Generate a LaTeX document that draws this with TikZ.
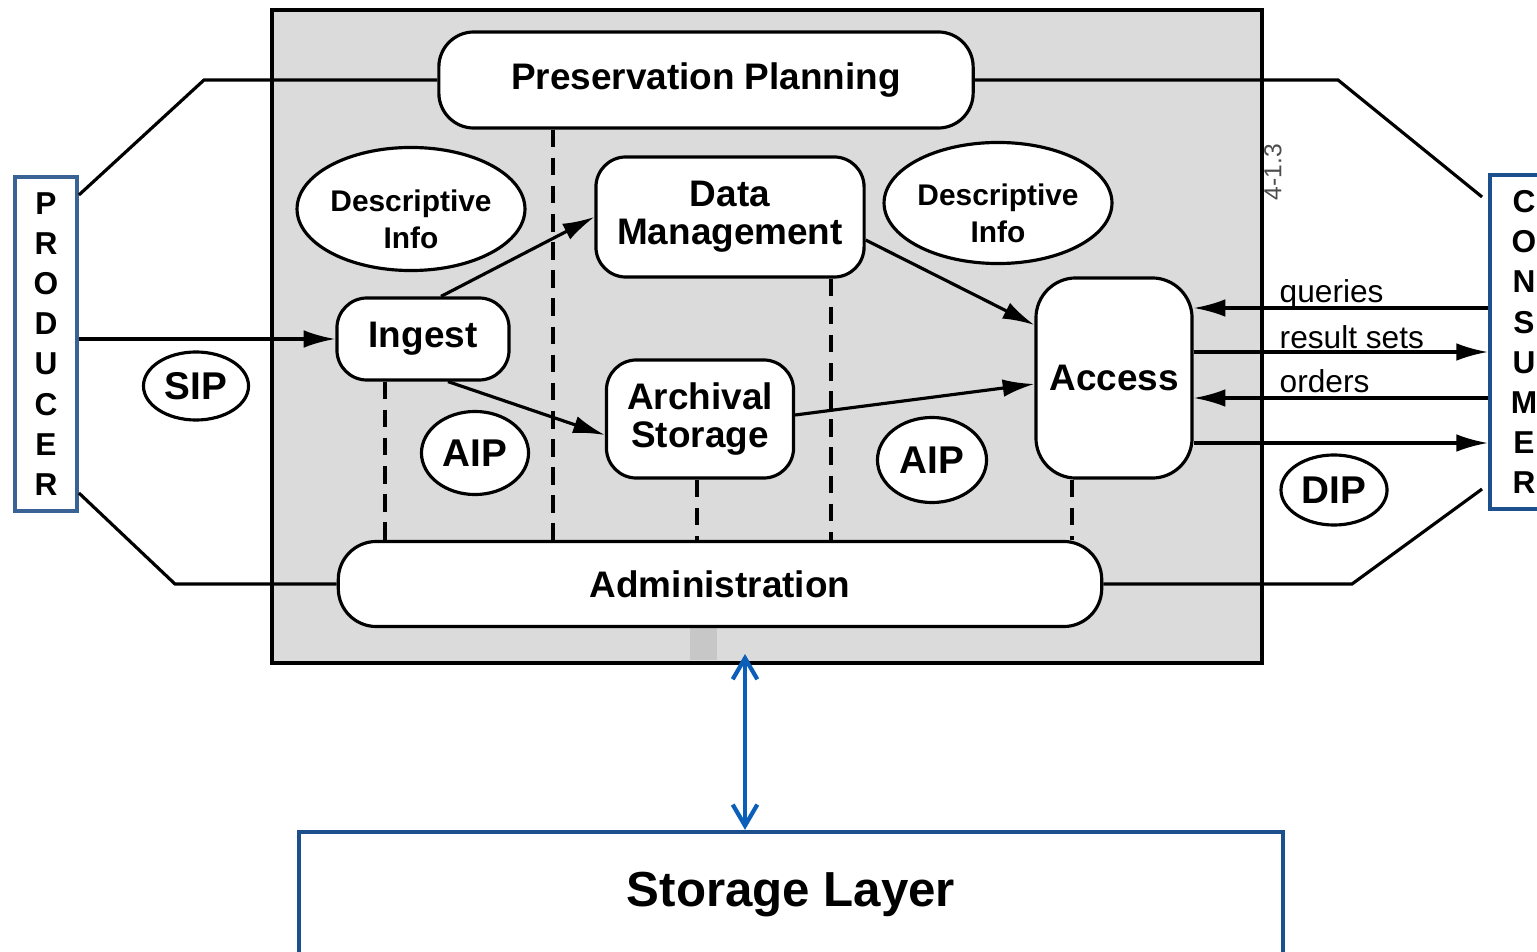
\documentclass[tikz,border=0pt]{standalone}
\usepackage{fontspec}
\setmainfont{Liberation Sans}
\usetikzlibrary{calc}
\usetikzlibrary{arrows.meta}
\usetikzlibrary{shapes.geometric}

\definecolor{entblue}{HTML}{3B6295}
\definecolor{layblue}{HTML}{1B4F8E}
\definecolor{arrblue}{HTML}{0B5FB8}

\begin{document}
\begin{tikzpicture}[x=0.01cm, y=-0.01cm,
    func/.style={draw, fill=white, line width=0.9pt, rounded corners=0.3cm, inner sep=0pt, align=center, font=\bfseries\fontsize{10.5}{10.8}\selectfont},
    pkg/.style={draw, ellipse, fill=white, line width=0.9pt, inner sep=0pt, font=\bfseries\fontsize{11}{12}\selectfont},
    info/.style={draw, ellipse, fill=white, line width=0.9pt, inner sep=0pt, align=center, text height=22.5pt, font=\bfseries\fontsize{8.5}{10.5}\selectfont},
    entity/.style={draw=entblue, fill=white, line width=1.1pt, inner sep=0pt, align=center, font=\bfseries\fontsize{9}{11.4}\selectfont},
    conn/.style={line width=0.9pt},
    flow/.style={conn, -{Latex[length=9pt,width=5pt]}},
    link/.style={line width=0.9pt, dash pattern=on 5pt off 3pt},
    lbl/.style={inner sep=0pt, font=\fontsize{9}{10}\selectfont}]

    \useasboundingbox (0,0) rectangle (1537,952);

    \draw[fill=black!14, line width=1pt] (272,10) rectangle (1262,663);
    \fill[black!22] (690,628) rectangle (717,660);
    \node[rotate=90, text=black!70, inner sep=0pt, font=\fontsize{7}{8}\selectfont] (fignum) at (1273,172) {4-1.3};

    \node[entity, minimum width=0.62cm, minimum height=3.34cm] (prod) at (46,344) {P\\R\\O\\D\\U\\C\\E\\R};
    \node[entity, draw=layblue, minimum width=0.68cm, minimum height=3.34cm] (cons) at (1524,342) {C\\O\\N\\S\\U\\M\\E\\R};

    \node[func, minimum width=5.34cm, minimum height=0.96cm, rounded corners=0.35cm] (pp) at (706,80) {Preservation Planning};
    \node[func, minimum width=1.72cm, minimum height=0.82cm] (ingest) at (423,339) {Ingest};
    \node[func, minimum width=2.68cm, minimum height=1.20cm] (dm) at (730,217) {Data\\Management};
    \node[func, minimum width=1.87cm, minimum height=1.18cm] (arch) at (700,419) {Archival\\Storage};
    \node[func, minimum width=1.56cm, minimum height=2.00cm, rounded corners=0.4cm] (access) at (1114,378) {Access};
    \node[func, minimum width=7.63cm, minimum height=0.85cm, rounded corners=0.38cm] (adm) at (720,584) {Administration};

    \node[info, minimum width=2.13cm, minimum height=1.23cm] (dinfoa) at (411,209) {Descriptive\\Info};
    \node[info, minimum width=2.13cm, minimum height=1.21cm] (dinfob) at (998,203) {Descriptive\\Info};
    \node[pkg, minimum width=1.05cm, minimum height=0.68cm] (sip) at (196,386) {SIP};
    \node[pkg, minimum width=1.07cm, minimum height=0.83cm] (aipa) at (475,453) {AIP};
    \node[pkg, minimum width=1.09cm, minimum height=0.85cm] (aipb) at (932,460) {AIP};
    \node[pkg, minimum width=1.06cm, minimum height=0.70cm] (dip) at (1334,490) {DIP};

    \node[draw=layblue, line width=1.2pt, minimum width=9.83cm, minimum height=1.26cm, inner sep=0pt, font=\bfseries\fontsize{14}{16}\selectfont] (store) at (791,895) {Storage Layer};

    \draw[conn] ($(prod.north east)+(0,20)$) -- (204,80) -- (pp.west);
    \draw[conn] ($(prod.south east)+(0,-20)$) -- (175,584) -- (adm.west);
    \draw[conn] (pp.east) -- (1338,80) -- ($(cons.north west)+(-6,24)$);
    \draw[conn] (adm.east) -- (1352,584) -- ($(cons.south west)+(-6,-22)$);

    \draw[flow] (prod.east |- ingest.west) -- (ingest.west);
    \draw[flow] (ingest.north -| 441,0) -- (dm.west);
    \draw[flow] (ingest.south -| 448,0) -- ($(arch.west)+(0,16)$);
    \draw[flow] (dm.east |- 0,240) -- (access.west |- 0,325);
    \draw[flow] (arch.east |- 0,415) -- (access.west |- 0,384);

    \draw[flow] (cons.west |- 0,308) -- (access.east |- 0,308);
    \draw[flow] (access.east |- 0,352) -- (cons.west |- 0,352);
    \draw[flow] (cons.west |- 0,398) -- (access.east |- 0,398);
    \draw[flow] (access.east |- 0,443) -- (cons.west |- 0,443);
    \node[lbl, anchor=base west] (qry) at (1279,303) {queries};
    \node[lbl, anchor=base west] (res) at (1279,348) {result sets};
    \node[lbl, anchor=base west] (ord) at (1279,393) {orders};

    \draw[link] (ingest.south -| 385,0) -- (adm.north -| 385,0);
    \draw[link] (pp.south -| 553,0) -- (adm.north -| 553,0);
    \draw[link] (arch.south -| 697,0) -- (adm.north -| 697,0);
    \draw[link] (dm.south -| 831,0) -- (adm.north -| 831,0);
    \draw[link] (access.south -| 1072,0) -- (adm.north -| 1072,0);

    \coordinate (admbase) at (745,654);
    \draw[arrblue, line width=1.2pt, {Straight Barb[length=6pt,width=7pt]}-{Straight Barb[length=6pt,width=7pt]}] (admbase) -- (store.north -| 745,0);

\end{tikzpicture}
\end{document}
